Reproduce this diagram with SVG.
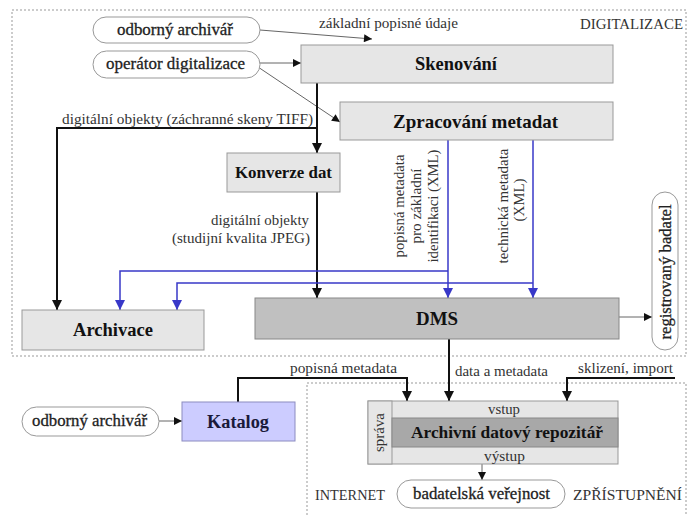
<svg xmlns="http://www.w3.org/2000/svg" width="689" height="515" viewBox="0 0 689 515" font-family="Liberation Serif, Times New Roman, serif">
<defs>
<style>
.t{font-size:15px;fill:#333}
.b{font-weight:bold;fill:#111;text-anchor:middle}
.pt{font-size:17px;fill:#222;stroke:#222;stroke-width:0.3;text-anchor:middle}
.box{fill:#e6e6e6;stroke:#999;stroke-width:1}
.pill{fill:#fff;stroke:#999;stroke-width:1}
.dot{fill:none;stroke:#999;stroke-width:1;stroke-dasharray:2 2}
.k{fill:none;stroke:#111;stroke-width:2;marker-end:url(#ak)}
.g{fill:none;stroke:#666;stroke-width:1;marker-end:url(#ag)}
.u{fill:none;stroke:#3838c8;stroke-width:1.5;marker-end:url(#au)}
</style>
<marker id="ak" markerUnits="userSpaceOnUse" markerWidth="10" markerHeight="10" viewBox="0 0 10 10" refX="10" refY="5" orient="auto"><path d="M0,0 L10,5 L0,10 z" fill="#111"/></marker>
<marker id="ag" markerUnits="userSpaceOnUse" markerWidth="9" markerHeight="8" viewBox="0 0 10 10" refX="10" refY="5" orient="auto"><path d="M0,0 L10,5 L0,10 z" fill="#111"/></marker>
<marker id="au" markerUnits="userSpaceOnUse" markerWidth="10" markerHeight="10" viewBox="0 0 10 10" refX="10" refY="5" orient="auto"><path d="M0,0 L10,5 L0,10 z" fill="#3838c8"/></marker>
</defs>
<rect width="689" height="515" fill="#fff"/>

<g id="regions">
<rect class="dot" x="12" y="10" width="674" height="346"/>
<path class="dot" d="M307,515 V383 H686 V515"/>
<text class="t" x="683" y="29" text-anchor="end" style="font-size:14px" textLength="103" lengthAdjust="spacingAndGlyphs">DIGITALIZACE</text>
<text class="t" x="315" y="500" style="font-size:14.5px" textLength="70" lengthAdjust="spacingAndGlyphs">INTERNET</text>
<text class="t" x="682" y="500" text-anchor="end" style="font-size:15.5px" textLength="109" lengthAdjust="spacingAndGlyphs">ZPŘÍSTUPNĚNÍ</text>
</g>

<g id="connectors">
<path class="g" d="M260,30 L372,39"/>
<text class="t" x="319" y="28" textLength="139" lengthAdjust="spacingAndGlyphs">základní popisné údaje</text>
<path class="g" d="M260,63 H301"/>
<path class="g" d="M258,67 L340,122"/>
<path class="k" d="M317,83 V153"/>
<path class="k" d="M317,128 H57 V310"/>
<text class="t" x="62" y="124" textLength="251" lengthAdjust="spacingAndGlyphs">digitální objekty (záchranné skeny TIFF)</text>
<path class="k" d="M317,192 V298"/>
<text class="t" x="309" y="225" text-anchor="end" textLength="98" lengthAdjust="spacingAndGlyphs">digitální objekty</text>
<text class="t" x="310" y="243" text-anchor="end" textLength="138" lengthAdjust="spacingAndGlyphs">(studijní kvalita JPEG)</text>
<path class="u" d="M448,140 V298"/>
<path class="u" d="M533,140 V298"/>
<path class="u" d="M448,271 H120 V310"/>
<path class="u" d="M533,283 H177 V310"/>
<text class="t" transform="translate(404,206) rotate(-90)" text-anchor="middle" textLength="103" lengthAdjust="spacingAndGlyphs">popisná metadata</text>
<text class="t" transform="translate(421,206) rotate(-90)" text-anchor="middle" textLength="75" lengthAdjust="spacingAndGlyphs">pro základní</text>
<text class="t" transform="translate(438,206) rotate(-90)" text-anchor="middle" textLength="113" lengthAdjust="spacingAndGlyphs">identifikaci (XML)</text>
<text class="t" transform="translate(508,206) rotate(-90)" text-anchor="middle" textLength="115" lengthAdjust="spacingAndGlyphs">technická metadata</text>
<text class="t" transform="translate(524,200) rotate(-90)" text-anchor="middle" textLength="43" lengthAdjust="spacingAndGlyphs">(XML)</text>
<path class="g" d="M619,317 H652"/>
<path class="g" d="M159,421 H182"/>
<path class="k" d="M238,402 V378 H407 V401"/>
<text class="t" x="290" y="373" textLength="107" lengthAdjust="spacingAndGlyphs">popisná metadata</text>
<path class="k" d="M449,339 V401"/>
<text class="t" x="455" y="376" textLength="93" lengthAdjust="spacingAndGlyphs">data a metadata</text>
<path class="k" d="M675,378 H567 V401"/>
<text class="t" x="578" y="373" textLength="95" lengthAdjust="spacingAndGlyphs">sklizení, import</text>
<path class="g" d="M482,464 V480"/>
</g>

<g id="odborny-archivar-digitalizace">
<rect class="pill" x="93" y="17" width="167" height="26" rx="13"/>
<text class="pt" x="175" y="35" textLength="116" lengthAdjust="spacingAndGlyphs">odborný archivář</text>
</g>
<g id="operator-digitalizace">
<rect class="pill" x="93" y="51" width="167" height="27" rx="13.5"/>
<text class="pt" x="175.5" y="69" textLength="139" lengthAdjust="spacingAndGlyphs">operátor digitalizace</text>
</g>
<g id="skenovani">
<rect class="box" x="301" y="45" width="312" height="38"/>
<text class="b" x="456" y="70" style="font-size:18px" textLength="82" lengthAdjust="spacingAndGlyphs">Skenování</text>
</g>
<g id="zpracovani-metadat">
<rect class="box" x="340" y="102" width="273" height="38"/>
<text class="b" x="475.5" y="128" style="font-size:19px" textLength="165" lengthAdjust="spacingAndGlyphs">Zpracování metadat</text>
</g>
<g id="konverze-dat">
<rect class="box" x="227" y="153" width="113" height="39"/>
<text class="b" x="283.5" y="178" style="font-size:17px" textLength="97" lengthAdjust="spacingAndGlyphs">Konverze dat</text>
</g>
<g id="archivace">
<rect class="box" x="22" y="310" width="182" height="40"/>
<text class="b" x="113" y="336" style="font-size:18.5px" textLength="80" lengthAdjust="spacingAndGlyphs">Archivace</text>
</g>
<g id="dms">
<rect x="255" y="298" width="364" height="41" fill="#c0c0c0" stroke="#888"/>
<text class="b" x="437" y="325" style="font-size:19px" textLength="42" lengthAdjust="spacingAndGlyphs">DMS</text>
</g>
<g id="registrovany-badatel">
<rect class="pill" x="652" y="192" width="26" height="158" rx="13"/>
<text class="pt" transform="translate(671,272) rotate(-90)" style="font-size:16.5px" textLength="135" lengthAdjust="spacingAndGlyphs">registrovaný badatel</text>
</g>
<g id="odborny-archivar-katalog">
<rect class="pill" x="22" y="407" width="137" height="29" rx="14.5"/>
<text class="pt" x="89.5" y="426" textLength="115" lengthAdjust="spacingAndGlyphs">odborný archivář</text>
</g>
<g id="katalog">
<rect x="182" y="402" width="113" height="39" fill="#ccccff" stroke="#8c8cc0"/>
<text class="b" x="238" y="428" style="font-size:18px;fill:#1a1a3a" textLength="62" lengthAdjust="spacingAndGlyphs">Katalog</text>
</g>
<g id="archivni-datovy-repozitar">
<rect class="box" x="368" y="401" width="250" height="63"/>
<rect class="box" x="368" y="401" width="24" height="63" fill="#e0e0e0"/>
<rect x="392" y="418" width="226" height="29" fill="#a8a8a8" stroke="#888"/>
<text class="t" x="504" y="414" text-anchor="middle" style="font-size:14.5px" textLength="32" lengthAdjust="spacingAndGlyphs">vstup</text>
<text class="b" x="507" y="438" style="font-size:17px" textLength="192" lengthAdjust="spacingAndGlyphs">Archivní datový repozitář</text>
<text class="t" x="504.5" y="461" text-anchor="middle" textLength="41" lengthAdjust="spacingAndGlyphs">výstup</text>
<text class="t" transform="translate(384,432.5) rotate(-90)" text-anchor="middle" style="font-size:14px" textLength="39" lengthAdjust="spacingAndGlyphs">správa</text>
</g>
<g id="badatelska-verejnost">
<rect class="pill" x="397" y="480" width="168" height="28" rx="14"/>
<text class="pt" x="481.5" y="499" textLength="137" lengthAdjust="spacingAndGlyphs">badatelská veřejnost</text>
</g>
</svg>
